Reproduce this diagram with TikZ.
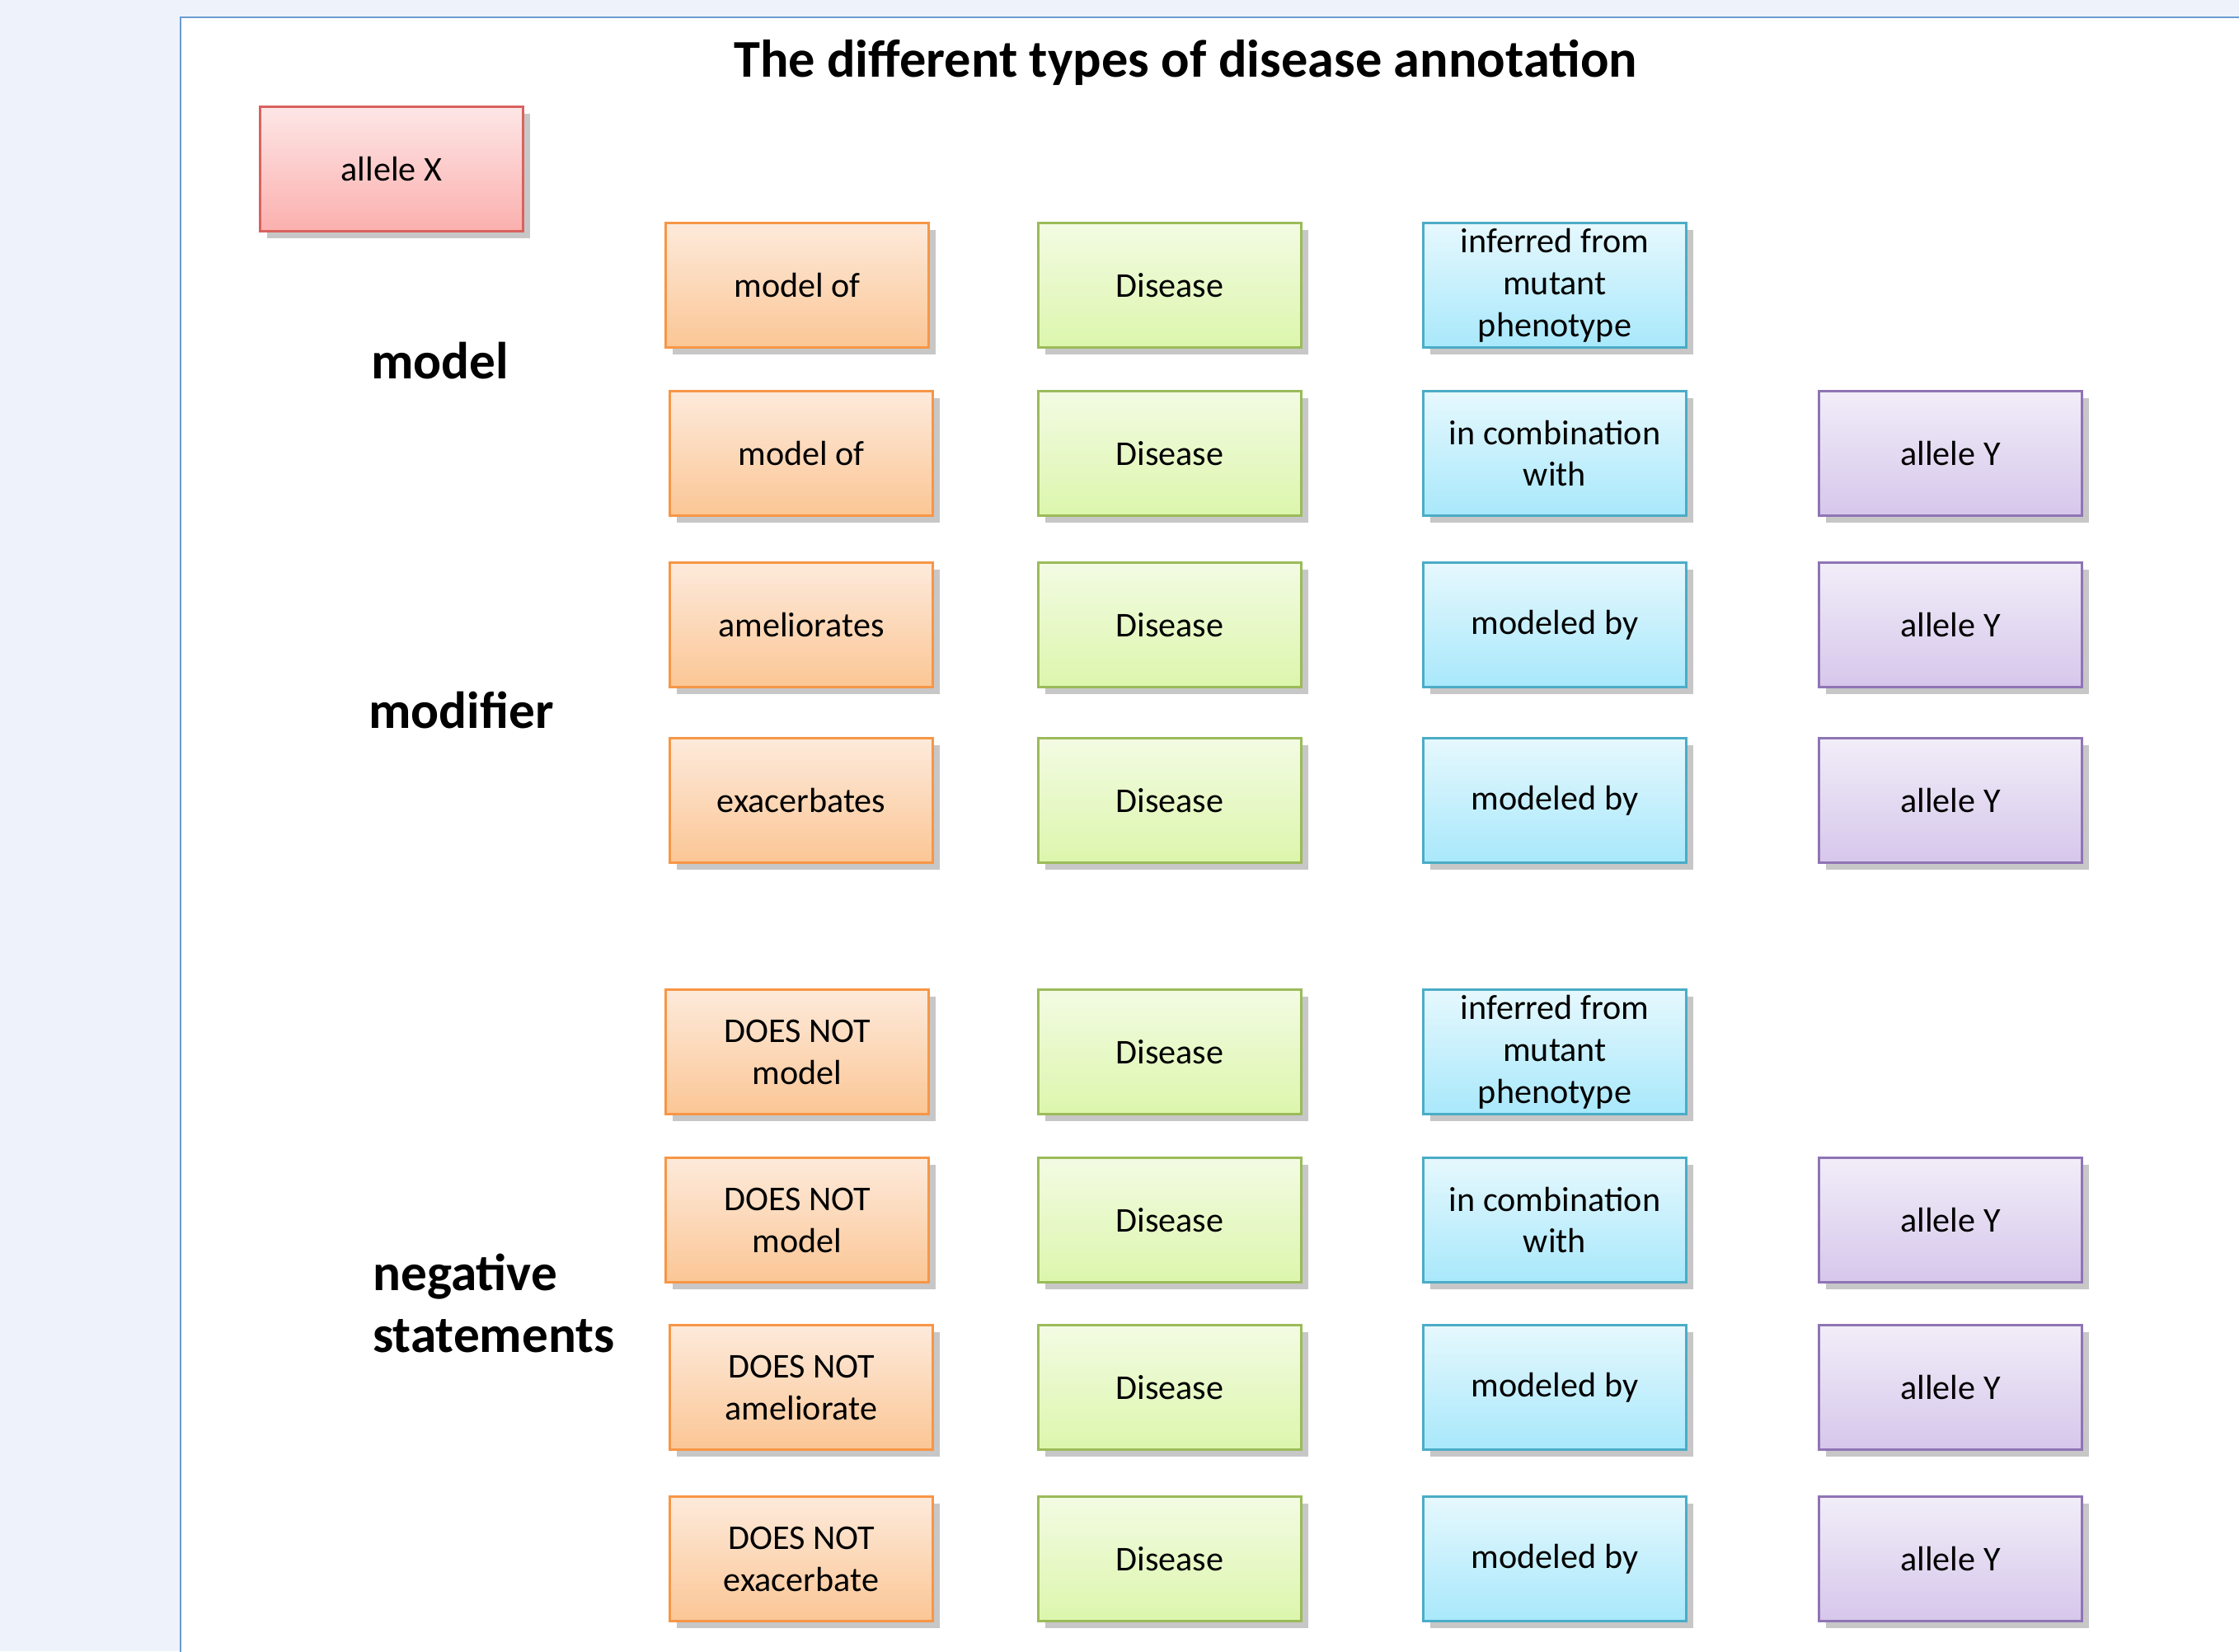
\documentclass[tikz,border=0pt]{standalone}
\usepackage{fontspec}
\setmainfont{Carlito}
\usetikzlibrary{shadows}
\definecolor{pagebg}{HTML}{EEF3FB}
\definecolor{slideline}{HTML}{6A9BD1}
\definecolor{redtop}{HTML}{FDE6E6}
\definecolor{redbot}{HTML}{FBB0AE}
\definecolor{redline}{HTML}{D9625E}
\definecolor{orangetop}{HTML}{FDEADB}
\definecolor{orangebot}{HTML}{FBC695}
\definecolor{orangeline}{HTML}{F79646}
\definecolor{greentop}{HTML}{F3FBE3}
\definecolor{greenbot}{HTML}{DCF6AC}
\definecolor{greenline}{HTML}{9BBB59}
\definecolor{bluetop}{HTML}{E6F8FD}
\definecolor{bluebot}{HTML}{A8E8FB}
\definecolor{blueline}{HTML}{4BACC6}
\definecolor{purpletop}{HTML}{F1EDF8}
\definecolor{purplebot}{HTML}{D6C7EB}
\definecolor{purpleline}{HTML}{8F74B5}

\begin{document}
\begin{tikzpicture}[
		cellbox/.style={minimum width=3.19cm, minimum height=1.51cm, inner sep=0pt,
		                align=center, line width=0.9pt, font=\fontsize{12}{14.5}\selectfont,
		                drop shadow={shadow xshift=2.5pt, shadow yshift=-2.5pt, opacity=0.22, fill=black}},
		xbox/.style={cellbox, draw=redline, top color=redtop, bottom color=redbot},
		relbox/.style={cellbox, draw=orangeline, top color=orangetop, bottom color=orangebot},
		disbox/.style={cellbox, draw=greenline, top color=greentop, bottom color=greenbot},
		howbox/.style={cellbox, draw=blueline, top color=bluetop, bottom color=bluebot},
		ybox/.style={cellbox, draw=purpleline, top color=purpletop, bottom color=purplebot},
		section/.style={anchor=west, align=left, font=\fontsize{18}{21.5}\selectfont\bfseries}]
			\useasboundingbox (0,0) rectangle (27.16,-20.03);
			\fill[pagebg] (0,0) rectangle (27.16,-20.03);
			\filldraw[fill=white, draw=slideline, line width=0.8pt] (2.19,-21) -- (2.19,-0.21) -- (28,-0.21) -- (28,-21) -- cycle;

			\node[font=\fontsize{18.3}{21}\selectfont\bfseries] (title) at (14.38,-0.76)
				{The different types of disease annotation};
			\node[xbox] (alleleX) at (4.75,-2.05) {allele X};

			\node[section] (model) at (4.38,-4.38) {model};
			\node[section] (modifier) at (4.35,-8.61) {modifier};
			\node[section] (negative) at (4.40,-15.81) {negative\\statements};

			\foreach \r/\y/\xa/\rel/\how in {1/3.46/9.67/{model of}/{inferred from\\mutant\\phenotype},
			                                  2/5.50/9.72/{model of}/{in combination\\with},
			                                  3/7.58/9.72/{ameliorates}/{modeled by},
			                                  4/9.71/9.72/{exacerbates}/{modeled by},
			                                  5/12.76/9.67/{DOES NOT\\model}/{inferred from\\mutant\\phenotype},
			                                  6/14.80/9.67/{DOES NOT\\model}/{in combination\\with},
			                                  7/16.83/9.72/{DOES NOT\\ameliorate}/{modeled by},
			                                  8/18.91/9.72/{DOES NOT\\exacerbate}/{modeled by}} {
				\node[relbox] (rel\r) at (\xa,-\y) {\rel};
				\node[disbox] (dis\r) at (14.19,-\y) {Disease};
				\node[howbox] (how\r) at (18.86,-\y) {\how};
			}
			\foreach \r/\y in {2/5.50, 3/7.58, 4/9.71, 6/14.80, 7/16.83, 8/18.91} {
				\node[ybox] (alleleY\r) at (23.66,-\y) {allele Y};
			}
		\end{tikzpicture}
\end{document}
